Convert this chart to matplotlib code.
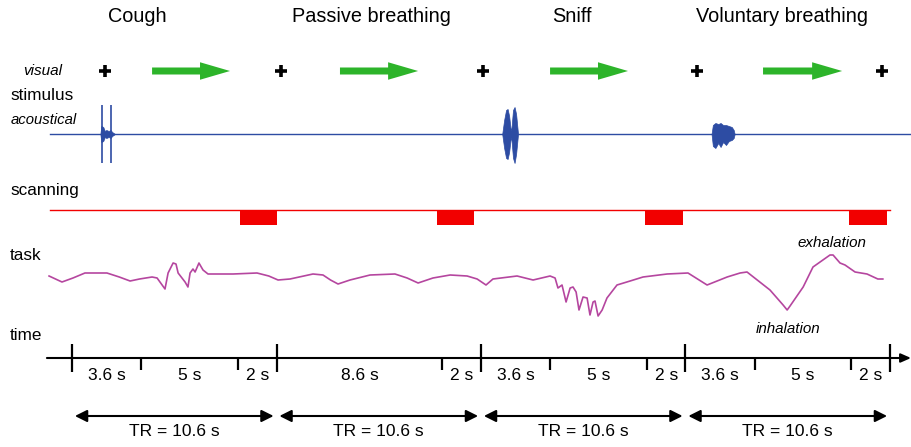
import matplotlib.pyplot as plt
import numpy as np

plt.rcParams["font.family"] = ["Liberation Sans", "DejaVu Sans"]

# timeline (seconds)
tr_bounds = [0, 10.6, 21.2, 31.8, 42.4]
seg_bounds = [0, 3.6, 8.6, 10.6, 19.2, 21.2, 24.8, 29.8, 31.8, 35.4, 40.4, 42.4]
seg_labels = ["3.6 s", "5 s", "2 s", "8.6 s", "2 s", "3.6 s", "5 s", "2 s",
              "3.6 s", "5 s", "2 s"]
minor_ticks = [3.6, 8.6, 19.2, 24.8, 29.8, 35.4, 40.4]

conditions = ["Cough", "Passive breathing", "Sniff", "Voluntary breathing"]
condition_t = [3.37, 15.50, 25.92, 36.81]

# visual stimulus
fixation_t = [1.71, 10.83, 21.31, 32.40, 41.99]
arrow_start = [4.15, 13.89, 24.78, 35.82]
arrow_end = [8.19, 17.94, 28.82, 39.92]

# acoustical stimulus: bursts (time, upper amp, lower amp)
cough_t = [1.47, 1.52, 1.62, 1.70, 1.78, 1.90, 2.00, 2.08, 2.23]
cough_up = [0, 8, 7, 3, 4, 3, 4, 2, 0]
cough_lo = [0, 8, 7, 3, 4, 3, 4, 2, 0]
cough_clicks = [1.56, 2.02]
click_amp = 29

sniff_t = [22.30, 22.40, 22.50, 22.58, 22.66, 22.74, 22.78, 22.86, 22.94, 23.02, 23.12]
sniff_up = [0, 14, 24, 25, 18, 4, 6, 24, 27, 20, 0]
sniff_lo = [0, 14, 24, 25, 18, 4, 6, 24, 29, 20, 0]

vol_t = [33.15, 33.22, 33.35, 33.50, 33.62, 33.75, 33.90, 34.05, 34.20, 34.30, 34.35]
vol_up = [0, 9, 11, 10, 11, 9, 9, 8, 7, 4, 0]
vol_lo = [0, 12, 14, 9, 13, 8, 11, 7, 6, 4, 0]

# scanning blocks
scan_start = [8.7, 18.9, 29.7, 40.3]
scan_len = 1.95

# breathing trace
breath_t = [-1.19, -0.52, 0.05, 0.67, 1.81, 2.45, 3.01, 3.50, 4.15, 4.41, 4.82,
            4.98, 5.24, 5.39, 5.50, 5.70, 5.86, 6.01, 6.12, 6.27, 6.38, 6.58,
            6.79, 7.05, 8.35, 9.59, 10.20, 10.68, 11.30, 12.49, 13.01, 13.40,
            13.79, 14.41, 15.45, 16.74, 17.37, 17.94, 18.71, 19.60, 20.48, 21.00,
            21.46, 21.82, 23.07, 23.90, 24.78, 25.04, 25.19, 25.40, 25.61, 25.82,
            25.97, 26.13, 26.28, 26.49, 26.70, 26.85, 27.01, 27.11, 27.27, 27.48,
            27.73, 28.25, 28.93, 29.60, 30.85, 31.93, 32.92, 33.96, 34.63, 34.99,
            36.18, 36.86, 37.07, 37.22, 37.90, 38.41, 39.29, 39.45, 39.81, 40.07,
            40.59, 41.21, 41.77, 42.03]
breath_v = [-1, -7, -3, 2, 2, -2, -6, -4, -2, -3, -14,
            2, 12, 11, 2, -3, -7, -12, 2, 6, 3, 12,
            5, 1, 1, 2, -1, -5, -4, 1, 0, -5,
            -9, -5, 0, 1, -3, -8, -3, 0, -1, -4,
            -10, -4, -1, -5, -1, -3, -13, -10, -27, -13,
            -12, -17, -35, -22, -23, -40, -27, -26, -41, -35,
            -23, -10, -6, -2, 1, 2, -10, -2, 2, 3,
            -15, -30, -35, -31, -12, 8, 20, 20, 12, 10,
            3, 1, -4, -4]

BLUE = "#2d4ca3"
RED = "#f20000"
PURPLE = "#b5469f"
GREEN = "#2db42a"

fig = plt.figure(figsize=(9.11, 4.47), dpi=100)
ax = fig.add_axes([0, 0, 1, 1])
ax.set_xlim(-3.733, 43.49)
ax.set_ylim(447, 0)
ax.axis("off")

LEFT = -3.21
label_kw = dict(fontsize=12.3, ha="left", va="center")

# titles
for name, t in zip(conditions, condition_t):
    ax.text(t, 16, name, fontsize=14.3, ha="center", va="center")

# stimulus rows
ax.text(-1.50, 71, "visual", fontsize=11, style="italic", ha="center", va="center")
ax.text(LEFT, 96, "stimulus", **label_kw)
ax.text(-3.16, 120, "acoustical", fontsize=10.7, style="italic", ha="left", va="center")

ax.scatter(fixation_t, [71] * len(fixation_t), marker="+", s=85, linewidths=2.6,
           color="black", zorder=3)
for a, b in zip(arrow_start, arrow_end):
    ax.annotate("", xy=(b, 71), xytext=(a, 71),
                arrowprops=dict(arrowstyle="simple,head_length=1.8,head_width=1.05,tail_width=0.42",
                                color=GREEN, mutation_scale=12, shrinkA=0, shrinkB=0, lw=0))

# acoustical trace
AC = 134
ax.plot([-1.14, 43.49], [AC, AC], color=BLUE, lw=1.0)
for tt, up, lo in [(cough_t, cough_up, cough_lo), (sniff_t, sniff_up, sniff_lo),
                   (vol_t, vol_up, vol_lo)]:
    ax.fill_between(tt, AC - np.array(up), AC + np.array(lo), color=BLUE, lw=0.5)
ax.vlines(cough_clicks, AC - click_amp, AC + click_amp, color=BLUE, lw=1.2)

# scanning
ax.text(LEFT, 190, "scanning", **label_kw)
SC = 210
ax.plot([-1.14, 42.4], [SC, SC], color=RED, lw=1.0)
for s in scan_start:
    ax.bar(s, 15, width=scan_len, bottom=SC, align="edge", color=RED, lw=0)

# task
ax.text(LEFT, 256, "task", **label_kw)
TK = 275
ax.plot(breath_t, TK - np.array(breath_v), color=PURPLE, lw=1.2)
ax.text(39.4, 243, "exhalation", fontsize=10.9, style="italic", ha="center", va="center")
ax.text(37.1, 329, "inhalation", fontsize=10.9, style="italic", ha="center", va="center")

# time axis
ax.text(LEFT, 336, "time", **label_kw)
TL = 358
ax.annotate("", xy=(43.49, TL), xytext=(-1.30, TL),
            arrowprops=dict(arrowstyle="-|>,head_length=0.5,head_width=0.22",
                            color="black", lw=1.5, mutation_scale=12,
                            shrinkA=0, shrinkB=0))
ax.vlines(tr_bounds, TL - 14, TL + 14, color="black", lw=1.6)
ax.vlines(minor_ticks, TL, TL + 12, color="black", lw=1.6)
for i, lab in enumerate(seg_labels):
    mid = (seg_bounds[i] + seg_bounds[i + 1]) / 2
    ax.text(mid, 375, lab, fontsize=12.5, ha="center", va="center")

# TR arrows
for a, b in zip(tr_bounds[:-1], tr_bounds[1:]):
    ax.annotate("", xy=(b - 0.15, 416), xytext=(a + 0.15, 416),
                arrowprops=dict(arrowstyle="<|-|>,head_length=0.6,head_width=0.3",
                                color="black", lw=1.5, mutation_scale=12,
                                shrinkA=0, shrinkB=0))
    ax.text((a + b) / 2, 432, "TR = 10.6 s", fontsize=12.5, ha="center", va="center")

fig.savefig("out.png", dpi=100)
